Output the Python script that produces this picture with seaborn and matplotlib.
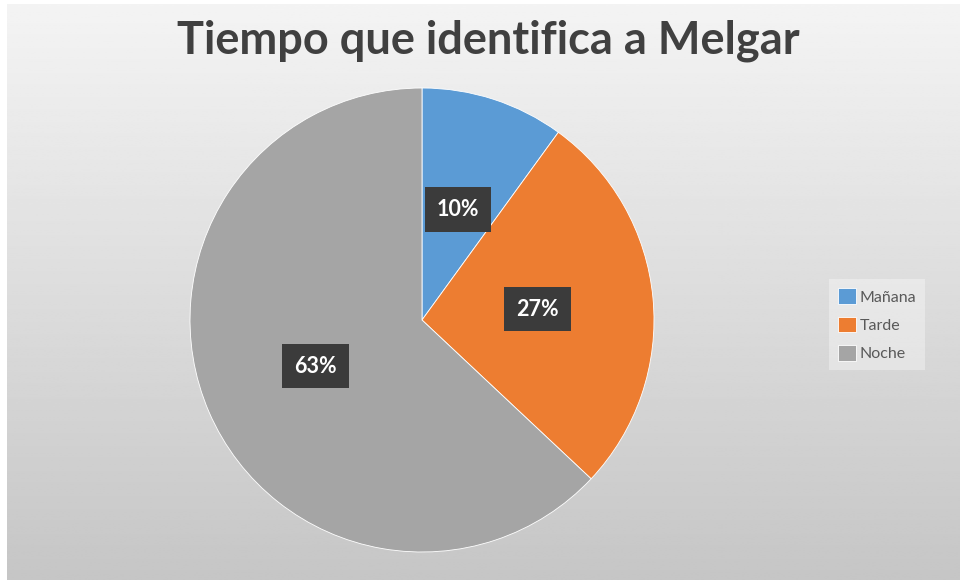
import numpy as np
import matplotlib
matplotlib.use('Agg')
import matplotlib.pyplot as plt
import seaborn as sns

# data
categories = ['Mañana', 'Tarde', 'Noche']
values = [10, 27, 63]
title = 'Tiempo que identifica a Melgar'

sns.set_theme(style='white')
plt.rcParams['font.family'] = ['Lato', 'DejaVu Sans']
colors = ['#5B9BD5', '#ED7D31', '#A5A5A5']

fig = plt.figure(figsize=(9.6, 5.8), dpi=100)
fig.patch.set_facecolor('white')

# gradient background of the chart area
bg = fig.add_axes([7 / 960, 0, 953 / 960, 1 - 4 / 580])
grad = np.linspace(0.955, 0.775, 256).reshape(-1, 1)
bg.imshow(np.repeat(grad, 2, axis=1), cmap='gray', vmin=0, vmax=1,
          aspect='auto', extent=[0, 1, 0, 1])
bg.set_axis_off()

# pie
ax = fig.add_axes([190 / 960, 28 / 580, 464 / 960, 464 / 580])
wedges, texts, autotexts = ax.pie(
    values, colors=colors, startangle=90, counterclock=False,
    autopct='%1.0f%%', pctdistance=0.5,
    wedgeprops=dict(edgecolor='white', linewidth=0.6))
for t in autotexts:
    t.set_color('white')
    t.set_fontsize(15.5)
    t.set_fontweight('bold')
    t.set_bbox(dict(boxstyle='square,pad=0.55', facecolor='#3b3b3b', edgecolor='none'))
ax.set_xlim(-1, 1)
ax.set_ylim(-1, 1)
ax.set_aspect('equal')
ax.set_axis_off()

fig.text(0.509, 0.93, title, ha='center', va='center',
         fontsize=32.5, fontweight='bold', color='#404040')

leg = fig.legend(wedges, categories, loc='upper left',
                 bbox_to_anchor=(0.855, 0.532), bbox_transform=fig.transFigure,
                 fontsize=11.5, frameon=True, handlelength=1.15, handleheight=1.15,
                 handletextpad=0.25, labelspacing=0.75, borderpad=0.55,
                 fancybox=False)
leg.get_frame().set_facecolor('white')
leg.get_frame().set_alpha(0.35)
leg.get_frame().set_edgecolor('none')
for t in leg.get_texts():
    t.set_color('#595959')

fig.savefig('out.png', dpi=100)
